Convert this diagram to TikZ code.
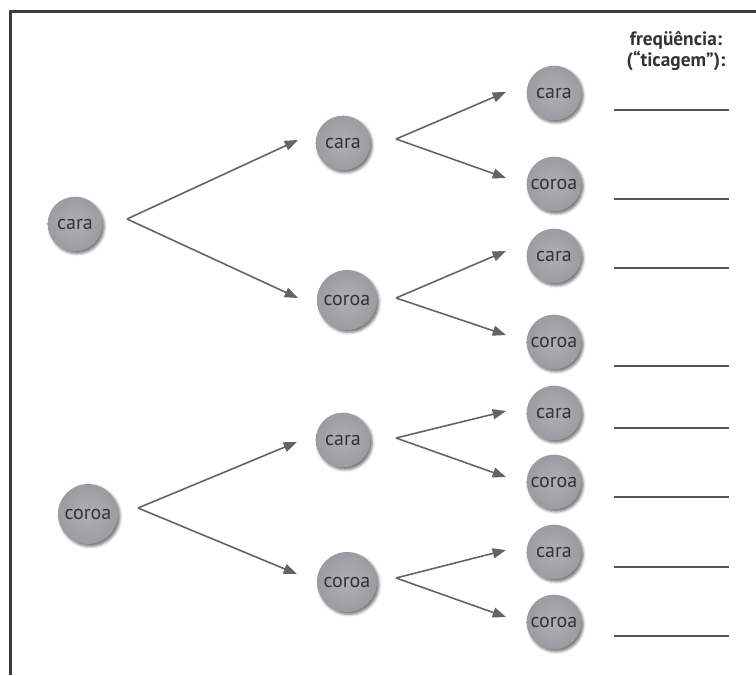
\documentclass[tikz,border=0pt]{standalone}
\usepackage{fontspec}
\setmainfont{PT Sans}
\usetikzlibrary{positioning,calc,arrows.meta,shadows.blur}
\definecolor{coinlight}{HTML}{B0B0B4}
\definecolor{coindark}{HTML}{9C9CA0}
\definecolor{cointext}{HTML}{333333}
\definecolor{edgegray}{HTML}{646464}
\definecolor{linegray}{HTML}{555555}
\definecolor{framegray}{HTML}{3C3C3C}
\tikzset{
	coin tree/.style={
		x=0.75pt, y=-0.75pt, % one unit per pixel of the page
		font=\fontsize{15}{17}\selectfont,
		outcome/.style={
			circle,
			minimum size=41pt,
			inner sep=0pt,
			shading=radial,
			inner color=coinlight,
			outer color=coindark,
			text=cointext,
			blur shadow={shadow xshift=1.5pt,shadow yshift=-1.8pt,shadow opacity=55}
		},
		wide outcome/.style={
			outcome,
			minimum size=45pt
		},
		branch edge/.style={
			draw=edgegray,
			line width=1.2pt,
			-{Triangle[length=10pt,width=7.5pt]}
		},
		tally line/.style={
			draw=linegray,
			line width=1.5pt
		},
		frame line/.style={
			draw=framegray,
			line width=2.25pt
		},
		heading/.style={
			font=\bfseries\fontsize{14.5}{13.5}\selectfont,
			align=center,
			text=cointext
		}
	}
}

\begin{document}
\begin{tikzpicture}[coin tree]
	\useasboundingbox (0,0) rectangle (756,675);
	\draw[frame line] (10,675) |- (756,11);

	\node[heading] (freq) at (676,51) {freqüência:\\(“ticagem”):};

	% first toss
	\node[outcome] (ca) at (75,224) {cara};
	\node[wide outcome] (co) at (88,514) {coroa};

	% second toss
	\node[outcome] (ca-ca) at (343,143) {cara};
	\node[wide outcome] (ca-co) at (347,300) {coroa};
	\node[outcome] (co-ca) at (343,440) {cara};
	\node[wide outcome] (co-co) at (347,582) {coroa};

	% third toss
	\node[outcome] (ca-ca-ca) at (554,93) {cara};
	\node[outcome] (ca-ca-co) at (554,184) {coroa};
	\node[outcome] (ca-co-ca) at (554,256) {cara};
	\node[outcome] (ca-co-co) at (554,342) {coroa};
	\node[outcome] (co-ca-ca) at (554,413) {cara};
	\node[outcome] (co-ca-co) at (554,482) {coroa};
	\node[outcome] (co-co-ca) at (554,552) {cara};
	\node[outcome] (co-co-co) at (554,622) {coroa};

	\draw[branch edge] ($(ca)+(52,-5)$) -- ($(ca-ca)+(-45,-3)$);
	\draw[branch edge] ($(ca)+(52,-5)$) -- ($(ca-co)+(-49,-2)$);
	\draw[branch edge] ($(co)+(50,-6)$) -- ($(co-ca)+(-46,2)$);
	\draw[branch edge] ($(co)+(50,-6)$) -- ($(co-co)+(-50,-8)$);

	\draw[branch edge] ($(ca-ca)+(53,-4)$) -- ($(ca-ca-ca)+(-48,-1)$);
	\draw[branch edge] ($(ca-ca)+(53,-4)$) -- ($(ca-ca-co)+(-48,-6)$);
	\draw[branch edge] ($(ca-co)+(49,-2)$) -- ($(ca-co-ca)+(-48,-5)$);
	\draw[branch edge] ($(ca-co)+(49,-2)$) -- ($(ca-co-co)+(-48,-7)$);
	\draw[branch edge] ($(co-ca)+(53,-2)$) -- ($(co-ca-ca)+(-48,-2)$);
	\draw[branch edge] ($(co-ca)+(53,-2)$) -- ($(co-ca-co)+(-48,-5)$);
	\draw[branch edge] ($(co-co)+(49,-4)$) -- ($(co-co-ca)+(-48,-2)$);
	\draw[branch edge] ($(co-co)+(49,-4)$) -- ($(co-co-co)+(-48,-5)$);

	% blanks for the tally
	\foreach \ty in {110,199,268,366,428,497,567,636}
		\draw[tally line] (614,\ty) -- (729,\ty);
\end{tikzpicture}
\end{document}
